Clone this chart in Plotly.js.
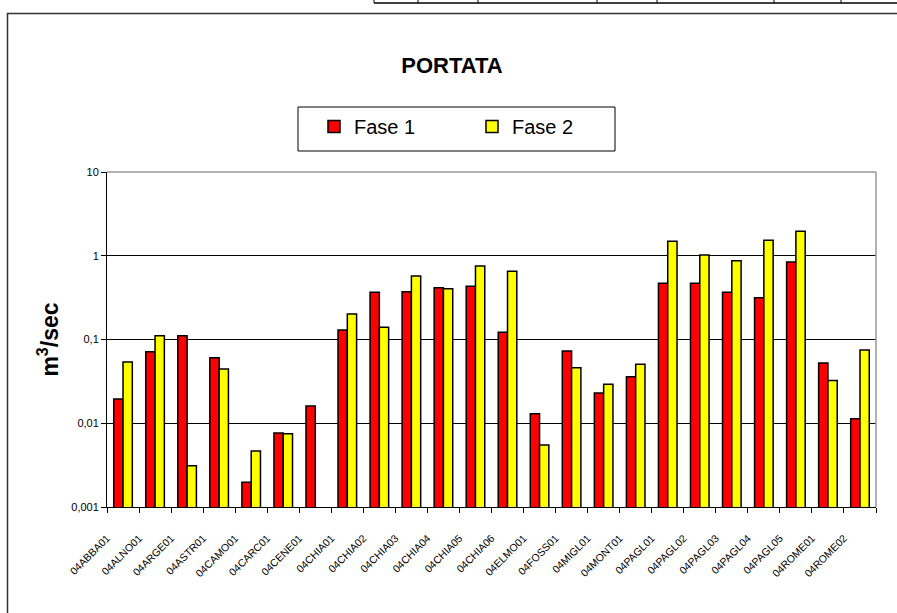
<!DOCTYPE html>
<html>
<head>
<meta charset="utf-8">
<script src="https://cdn.plot.ly/plotly-3.0.1.min.js"></script>
<style>
  html, body { margin: 0; padding: 0; background: white; }
  #chart { width: 897px; height: 613px; }
</style>
</head>
<body>
<div id="chart"></div>
<script>
// stazioni di misura
const stazioni = ['04ABBA01', '04ALNO01', '04ARGE01', '04ASTR01', '04CAMO01', '04CARC01',
    '04CENE01', '04CHIA01', '04CHIA02', '04CHIA03', '04CHIA04', '04CHIA05', '04CHIA06',
    '04ELMO01', '04FOSS01', '04MIGL01', '04MONT01', '04PAGL01', '04PAGL02', '04PAGL03',
    '04PAGL04', '04PAGL05', '04ROME01', '04ROME02'];

// portata m3/sec
const fase1 = [0.0195, 0.0716, 0.111, 0.0607, 0.00197, 0.00765, 0.0161, 0.130, 0.366, 0.372,
    0.416, 0.432, 0.122, 0.0130, 0.073, 0.023, 0.036, 0.469, 0.469, 0.366, 0.316, 0.842,
    0.0524, 0.0113];
const fase2 = [0.054, 0.111, 0.00311, 0.0444, 0.00467, 0.0075, null, 0.201, 0.140, 0.573,
    0.404, 0.755, 0.652, 0.0055, 0.0461, 0.0292, 0.0506, 1.49, 1.02, 0.873, 1.53, 1.96,
    0.0325, 0.075];

const yTickVals = [0.001, 0.01, 0.1, 1, 10];
const yTickText = ['0,001', '0,01', '0,1', '1', '10'];

// area del grafico in pixel
const L = 107, R = 876, T = 172, B = 507;
const px = x => (x - L) / (R - L);
const py = y => (B - y) / (B - T);

const data = [
    {
        type: 'bar', name: 'Fase 1', x: stazioni, y: fase1,
        marker: { color: '#FF0000', line: { color: 'black', width: 1.5 } },
        hoverinfo: 'x+y'
    },
    {
        type: 'bar', name: 'Fase 2', x: stazioni, y: fase2,
        marker: { color: '#FFFF00', line: { color: 'black', width: 1.5 } },
        hoverinfo: 'x+y'
    }
];

// riquadro esterno, tabella in alto, cornice legenda
const shapes = [
    { type: 'rect', xref: 'paper', yref: 'paper', x0: px(7.5), x1: px(905), y0: py(620), y1: py(13.5),
      line: { color: '#333', width: 1.5 }, layer: 'below' },
    { type: 'line', xref: 'paper', yref: 'paper', x0: px(374), x1: px(900), y0: py(3), y1: py(3),
      line: { color: 'black', width: 1.5 } },
    { type: 'rect', xref: 'paper', yref: 'paper', x0: px(298), x1: px(615), y0: py(151), y1: py(107),
      line: { color: 'black', width: 1 } },
    // bordo grigio dell'area del grafico
    { type: 'line', xref: 'paper', yref: 'paper', x0: 0, x1: 1, y0: 1, y1: 1,
      line: { color: '#999', width: 1.5 } },
    { type: 'line', xref: 'paper', yref: 'paper', x0: 1, x1: 1, y0: 0, y1: 1,
      line: { color: '#999', width: 1.5 } }
];
[374, 418, 478, 597, 657, 774, 841].forEach(x => {
    shapes.push({ type: 'line', xref: 'paper', yref: 'paper', x0: px(x), x1: px(x), y0: py(3), y1: py(-5),
        line: { color: 'black', width: 1 } });
});

const layout = {
    width: 897,
    height: 613,
    margin: { l: L, r: 897 - R, t: T, b: 613 - B },
    paper_bgcolor: 'white',
    plot_bgcolor: 'white',
    font: { family: 'Liberation Sans, Arial, sans-serif', color: 'black' },
    title: {
        text: '<b>PORTATA</b>',
        font: { size: 22, color: 'black' },
        x: px(452), xanchor: 'center', xref: 'paper',
        y: 1 - 65 / 613, yanchor: 'middle'
    },
    barmode: 'group',
    bargap: 0.42,
    bargroupgap: 0,
    showlegend: true,
    legend: {
        orientation: 'h',
        x: px(314), xanchor: 'left',
        y: py(107), yanchor: 'top',
        borderwidth: 0,
        bgcolor: 'rgba(0,0,0,0)',
        font: { size: 20 },
        entrywidth: 113,
        itemclick: false, itemdoubleclick: false
    },
    xaxis: {
        type: 'category',
        tickangle: -45,
        tickfont: { size: 10.5, family: 'Liberation Sans Narrow, Liberation Sans, Arial' },
        ticks: 'outside', ticklen: 5, tickcolor: 'black',
        tickson: 'boundaries',
        ticklabelstandoff: 20,
        ticklabelshift: -16,
        showline: true, linecolor: 'black', linewidth: 1,
        showgrid: false, fixedrange: true
    },
    yaxis: {
        type: 'log',
        range: [-3, 1],
        tickvals: yTickVals,
        ticktext: yTickText,
        tickfont: { size: 11 },
        ticks: 'outside', ticklen: 5, tickcolor: 'black',
        showline: true, linecolor: 'black', linewidth: 1,
        showgrid: true, gridcolor: 'black', gridwidth: 1,
        zeroline: false, fixedrange: true,
        title: { text: '<b>m<sup>3</sup>/sec</b>', font: { size: 23 }, standoff: 6 }
    },
    shapes: shapes
};

Plotly.newPlot('chart', data, layout, { displayModeBar: false, staticPlot: true });
</script>
</body>
</html>
